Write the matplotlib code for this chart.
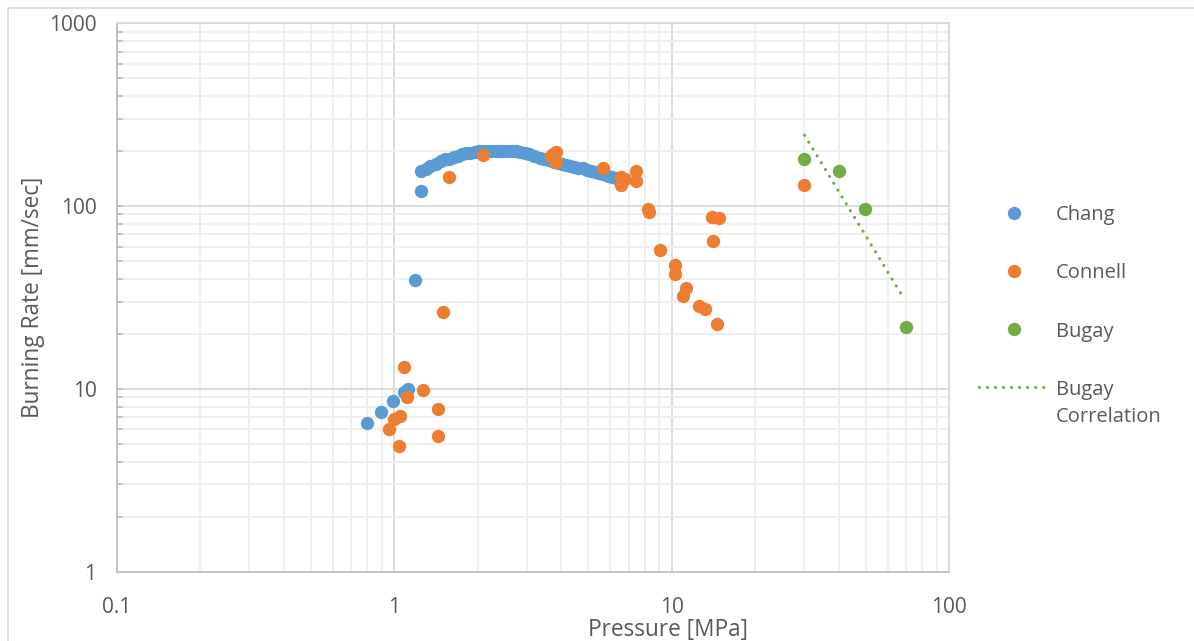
import matplotlib
matplotlib.use("Agg")
import matplotlib.pyplot as plt
from matplotlib.ticker import LogLocator, FixedLocator, NullFormatter
from matplotlib.legend_handler import HandlerLine2D
from matplotlib.patches import Rectangle

# ---------------- data ----------------
chang_p = [0.795, 0.893, 0.99, 1.086, 1.117, 1.19, 1.25,
           1.25, 1.30, 1.35, 1.41, 1.47, 1.53, 1.58, 1.64, 1.70, 1.76, 1.81, 1.88,
           1.95, 2.02, 2.08, 2.16, 2.24, 2.32, 2.39, 2.47, 2.56, 2.65, 2.74, 2.84,
           2.95, 3.07, 3.20, 3.34, 3.47, 3.61, 3.75, 3.90, 4.02, 4.15, 4.30, 4.45,
           4.60, 4.77, 4.94, 5.11, 5.29, 5.48, 5.67, 5.87, 6.08, 6.29]
chang_r = [6.5, 7.49, 8.57, 9.65, 10.04, 39.4, 121,
           156, 160, 165, 171, 176, 180, 182, 186, 189, 192, 194, 196,
           198, 199, 200, 200, 200, 200, 200, 200, 200, 199.5, 199, 197,
           195, 192, 188, 184, 181, 178, 175, 172, 170, 168, 166, 164,
           162.5, 161, 158.5, 156, 154, 152, 149.5, 147, 145, 143]

connell_p = [0.954, 0.995, 1.05, 1.042, 1.086, 1.114, 1.27, 1.44, 1.44, 1.50,
             1.57, 2.08, 3.67, 3.74, 3.82, 3.82, 5.63, 6.56, 6.56, 6.8, 7.44, 7.44,
             8.2, 8.3, 9.08, 10.3, 10.3, 11.28, 10.94, 12.55, 13.2, 14.5, 13.95,
             14.8, 14.1, 29.9]
connell_r = [6.02, 6.83, 7.12, 4.9, 13.1, 9.08, 9.89, 7.75, 5.54, 26.4,
             145, 190, 188, 192, 198, 175, 161, 145, 130, 140, 156, 137,
             97, 93, 57.5, 47.6, 42.5, 35.5, 32.2, 28.5, 27.3, 22.6, 87.4,
             85.7, 64.6, 130]

bugay_p = [29.9, 39.9, 49.8, 69.8]
bugay_r = [180, 155, 97, 21.7]

corr_p = [30.1, 68.9]
corr_r = [244, 30.9]

x_ticks = [0.1, 1, 10, 100]
x_ticklabels = ["0.1", "1", "10", "100"]
y_ticks = [1, 10, 100, 1000]
y_ticklabels = ["1", "10", "100", "1000"]

# ---------------- style ----------------
plt.rcParams['font.family'] = ['Open Sans', 'DejaVu Sans']
TXT = "#595959"
BLUE, ORANGE, GREEN = "#5B9BD5", "#ED7D31", "#70AD47"

W, H = 1194, 641
L, R, T, B = 116.7, 949.3, 23.3, 571.7
fig = plt.figure(figsize=(W / 100, H / 100), dpi=100)
ax = fig.add_axes([L / W, 1 - B / H, (R - L) / W, (B - T) / H])

# chart-area border (cropped at right/bottom)
fig.patches.append(Rectangle((8 / W, -0.1), 1.2, 1 - 8 / H + 0.1, transform=fig.transFigure,
                             fill=False, edgecolor="#d9d9d9", linewidth=1.2))

ax.set_xscale('log')
ax.set_yscale('log')
ax.set_xlim(0.1, 100)
ax.set_ylim(1, 1000)

ms = 9.6
ax.plot(chang_p, chang_r, 'o', color=BLUE, ms=ms, mew=0, label="Chang", zorder=3)
ax.plot(connell_p, connell_r, 'o', color=ORANGE, ms=ms, mew=0, label="Connell", zorder=4)
ax.plot(bugay_p, bugay_r, 'o', color=GREEN, ms=ms, mew=0, label="Bugay", zorder=5)
corr_line, = ax.plot(corr_p, corr_r, color=GREEN, lw=2.3, linestyle=(0, (0.01, 2.5)),
                     dash_capstyle='round', label="Bugay\nCorrelation", zorder=5)

ax.xaxis.set_major_locator(FixedLocator(x_ticks))
ax.set_xticklabels(x_ticklabels)
ax.yaxis.set_major_locator(FixedLocator(y_ticks))
ax.set_yticklabels(y_ticklabels)
ax.xaxis.set_minor_locator(LogLocator(base=10, subs=range(2, 10)))
ax.yaxis.set_minor_locator(LogLocator(base=10, subs=range(2, 10)))
ax.xaxis.set_minor_formatter(NullFormatter())
ax.yaxis.set_minor_formatter(NullFormatter())

ax.grid(which='major', color="#d9d9d9", lw=1.3, zorder=0)
ax.grid(which='minor', color="#eeeeee", lw=1.3, zorder=0)
ax.set_axisbelow(True)

ax.tick_params(axis='x', which='both', length=0, pad=18, labelsize=15, labelcolor=TXT)
ax.tick_params(axis='y', which='both', direction='in', length=4.5, width=1.3,
               color="#bfbfbf", pad=14.5, labelsize=15, labelcolor=TXT)

for s in ['left', 'bottom']:
    ax.spines[s].set_color("#bfbfbf")
    ax.spines[s].set_linewidth(1.3)
for s in ['top', 'right']:
    ax.spines[s].set_color("#d9d9d9")
    ax.spines[s].set_linewidth(1.3)

ax.set_xlabel("Pressure [MPa]", fontsize=16.3, color=TXT)
ax.xaxis.set_label_coords((668 - L) / (R - L), -(636 - B) / (B - T), transform=ax.transAxes)
ax.xaxis.label.set_va('baseline')
ax.set_ylabel("Burning Rate [mm/sec]", fontsize=16.3, color=TXT)
ax.yaxis.set_label_coords((33 - L) / (R - L), 0.5)
ax.yaxis.label.set_va('center')


class UpHandler(HandlerLine2D):
    def create_artists(self, legend, orig_handle, xdescent, ydescent, width, height,
                       fontsize, trans):
        return super().create_artists(legend, orig_handle, xdescent, ydescent - 24,
                                      width, height, fontsize, trans)


leg = ax.legend(loc='upper left', bbox_to_anchor=(979 / W, 1 - 205 / H),
                bbox_transform=fig.transFigure, frameon=False, fontsize=14.5,
                labelcolor=TXT, handlelength=3.5, handletextpad=0.3,
                labelspacing=1.9, borderaxespad=0, borderpad=0,
                handler_map={corr_line: UpHandler(numpoints=2, marker_pad=0)})
for t in leg.get_texts():
    t.set_linespacing(1.5)

fig.savefig("out.png", dpi=100)
